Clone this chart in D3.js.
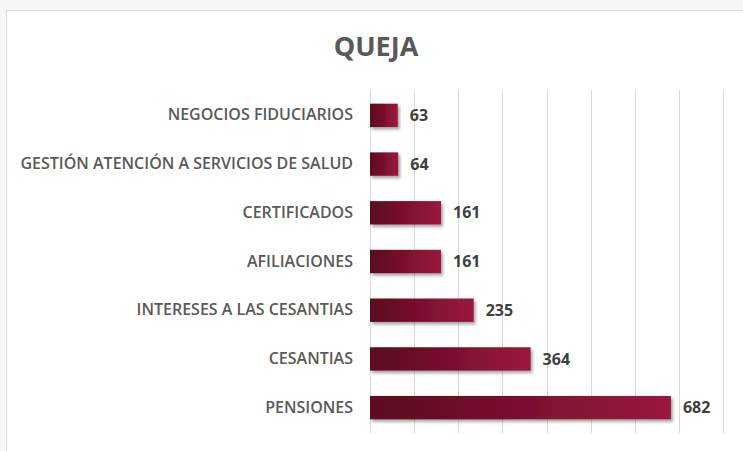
<!DOCTYPE html>
<html>
<head>
<meta charset="utf-8">
<script src="https://cdn.jsdelivr.net/npm/d3@7"></script>
<style>
  body { margin: 0; background: #f7f7f7; }
  svg { display: block; }
</style>
</head>
<body>
<svg id="bar-chart" width="743" height="451"></svg>
<script>
const title = 'QUEJA';
const categories = [
  'NEGOCIOS FIDUCIARIOS',
  'GESTIÓN ATENCIÓN A SERVICIOS DE SALUD',
  'CERTIFICADOS',
  'AFILIACIONES',
  'INTERESES A LAS CESANTIAS',
  'CESANTIAS',
  'PENSIONES'
];
const values = [63, 64, 161, 161, 235, 364, 682];
const xTicks = [0, 100, 200, 300, 400, 500, 600, 700, 800];

const svg = d3.select('#bar-chart');
const font = '"Open Sans", sans-serif';

// chart frame
svg.append('rect')
  .attr('x', 6.5).attr('y', 10.5)
  .attr('width', 760).attr('height', 460)
  .attr('fill', '#ffffff')
  .attr('stroke', '#d9d9d9');

const defs = svg.append('defs');
const grad = defs.append('linearGradient')
  .attr('id', 'barGrad')
  .attr('x1', '0%').attr('x2', '100%').attr('y1', '0%').attr('y2', '0%');
grad.append('stop').attr('offset', '0%').attr('stop-color', '#5a0a20');
grad.append('stop').attr('offset', '100%').attr('stop-color', '#9b173e');

const shadow = defs.append('filter').attr('id', 'shadow')
  .attr('x', '-5%').attr('y', '-20%').attr('width', '115%').attr('height', '160%');
shadow.append('feDropShadow')
  .attr('dx', 2).attr('dy', 2.5).attr('stdDeviation', 1.6)
  .attr('flood-color', '#000').attr('flood-opacity', 0.35);

const x = d3.scaleLinear().domain([0, 800]).range([370, 723]);
const y = d3.scaleBand().domain(categories).range([91, 432]).paddingInner(0.52).paddingOuter(0.26);

// gridlines
svg.append('g')
  .selectAll('line')
  .data(xTicks)
  .join('line')
  .attr('x1', d => Math.round(x(d)) + 0.5)
  .attr('x2', d => Math.round(x(d)) + 0.5)
  .attr('y1', 90)
  .attr('y2', 433)
  .attr('stroke', '#d9d9d9')
  .attr('stroke-width', 1);

// title
svg.append('text')
  .attr('x', 376)
  .attr('y', 56)
  .attr('text-anchor', 'middle')
  .attr('font-family', font)
  .attr('font-weight', 'bold')
  .attr('font-size', 27)
  .attr('fill', '#595959')
  .text(title);

// category axis
const yAxis = svg.append('g')
  .attr('transform', 'translate(370,0)')
  .call(d3.axisLeft(y).tickSize(0).tickPadding(17));
yAxis.select('.domain').remove();
yAxis.selectAll('text')
  .attr('font-family', font)
  .attr('font-weight', 600)
  .attr('font-size', 16)
  .attr('fill', '#595959');

// bars
svg.append('g')
  .selectAll('rect')
  .data(values)
  .join('rect')
  .attr('x', x(0))
  .attr('y', (d, i) => y(categories[i]))
  .attr('width', d => x(d) - x(0))
  .attr('height', y.bandwidth())
  .attr('fill', 'url(#barGrad)')
  .attr('filter', 'url(#shadow)');

// value labels
svg.append('g')
  .selectAll('text')
  .data(values)
  .join('text')
  .attr('x', d => x(d) + 12)
  .attr('y', (d, i) => y(categories[i]) + y.bandwidth() / 2)
  .attr('dy', '0.35em')
  .attr('font-family', font)
  .attr('font-weight', 'bold')
  .attr('font-size', 16)
  .attr('fill', '#404040')
  .text(d => d);
</script>
</body>
</html>
